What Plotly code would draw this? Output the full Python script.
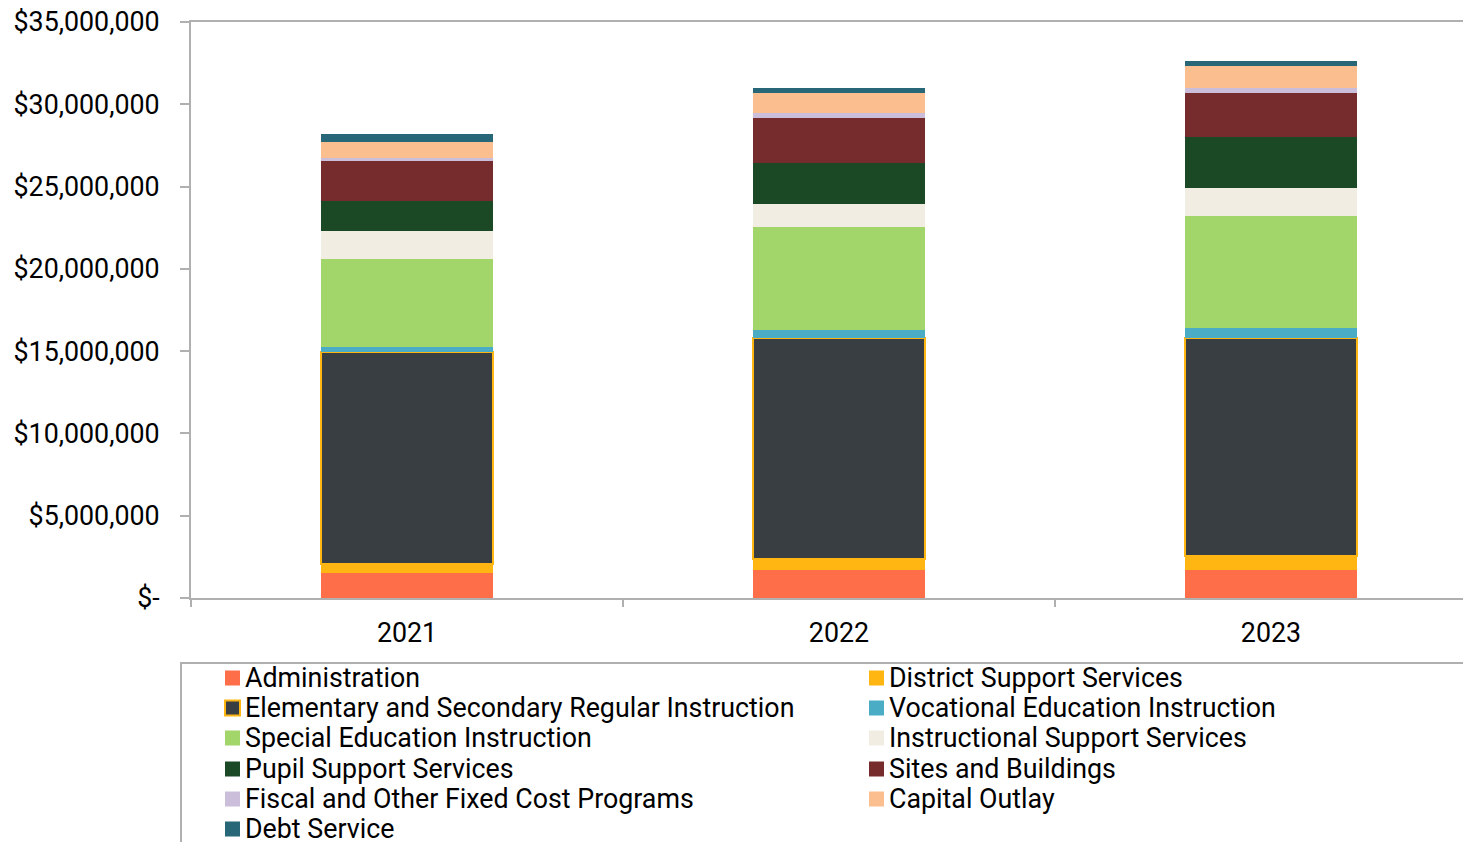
import plotly.graph_objects as go

years = ["2021", "2022", "2023"]
categories = [
    "Administration",
    "District Support Services",
    "Elementary and Secondary Regular Instruction",
    "Vocational Education Instruction",
    "Special Education Instruction",
    "Instructional Support Services",
    "Pupil Support Services",
    "Sites and Buildings",
    "Fiscal and Other Fixed Cost Programs",
    "Capital Outlay",
    "Debt Service",
]
administration = [1500000, 1700000, 1700000]
district_support = [550000, 650000, 870000]
elementary_secondary = [12920000, 13430000, 13250000]
vocational = [300000, 490000, 610000]
special_ed = [5350000, 6290000, 6780000]
instructional_support = [1660000, 1360000, 1690000]
pupil_support = [1820000, 2490000, 3090000]
sites_buildings = [2440000, 2740000, 2710000]
fiscal_fixed = [180000, 300000, 290000]
capital_outlay = [970000, 1250000, 1360000]
debt_service = [500000, 290000, 300000]

series = [administration, district_support, elementary_secondary, vocational,
          special_ed, instructional_support, pupil_support, sites_buildings,
          fiscal_fixed, capital_outlay, debt_service]
colors = ["#FE6E48", "#FFB612", "#393E42", "#4BACC6", "#A2D56A", "#F2EDE3",
          "#1B4925", "#762C2C", "#CABEDB", "#FBBF8F", "#276778"]

ytickvals = [0, 5000000, 10000000, 15000000, 20000000, 25000000, 30000000, 35000000]
yticktext = ["$-", "$5,000,000", "$10,000,000", "$15,000,000", "$20,000,000",
             "$25,000,000", "$30,000,000", "$35,000,000"]

# page body has an 8px default margin; figure coordinates are screen - 8
OFF = 8
W, H = 1471 - OFF, 842 - OFF
ML, MR, MT, MB = 191 - OFF, 0, 22 - OFF, 244
PW, PH = W - ML - MR, H - MT - MB
FONT = "Roboto"
FS = 26.8


def px(x):  # screen x -> paper
    return (x - OFF - ML) / PW


def py(y):  # screen y -> paper
    return (H - MB - (y - OFF)) / PH


fig = go.Figure()
for name, vals, col in zip(categories, series, colors):
    if name == "Elementary and Secondary Regular Instruction":
        line = dict(color="#FFB612", width=2)
    else:
        line = dict(width=0)
    fig.add_trace(go.Bar(x=years, y=vals, name=name, showlegend=False,
                         marker=dict(color=col, line=line)))

# Legend drawn as layout shapes + text annotations (two columns, row-major)
shapes = [dict(type="rect", xref="paper", yref="paper",
               x0=px(181), x1=px(1469), y0=py(663), y1=py(880),
               line=dict(color="#B0B0B0", width=2), fillcolor="rgba(0,0,0,0)",
               layer="above")]
annotations = []
row_y = [678, 708, 738, 769, 799, 829]
col_x = [225, 869]
for i, (name, col) in enumerate(zip(categories, colors)):
    r, c = divmod(i, 2)
    yc = row_y[r]
    x0 = col_x[c]
    sq_line = dict(color="#FFB612", width=2) if name.startswith("Elementary") else dict(width=0)
    shapes.append(dict(type="rect", xref="paper", yref="paper",
                       x0=px(x0), x1=px(x0 + 15), y0=py(yc + 7.5), y1=py(yc - 7.5),
                       fillcolor=col, line=sq_line))
    annotations.append(dict(xref="paper", yref="paper", x=px(x0 + 18), y=py(yc),
                            xanchor="left", yanchor="middle", text=name, showarrow=False,
                            font=dict(family=FONT, size=FS, color="black")))

fig.update_layout(
    barmode="stack",
    bargap=0.6,
    width=W, height=H,
    margin=dict(l=ML, r=MR, t=MT, b=MB, autoexpand=False),
    paper_bgcolor="white", plot_bgcolor="white",
    font=dict(family=FONT, size=FS, color="black"),
    showlegend=False,
    shapes=shapes,
    annotations=annotations,
)
fig.update_xaxes(
    type="category",
    range=[-0.5, 2.463],
    showline=True, linecolor="#B0B0B0", linewidth=2, mirror=True,
    ticks="outside", tickson="boundaries", ticklen=7, tickcolor="#B0B0B0", tickwidth=2,
    showgrid=False,
    ticklabelstandoff=10,
)
fig.update_yaxes(
    range=[0, 35000000],
    tickvals=ytickvals, ticktext=yticktext,
    showline=True, linecolor="#B0B0B0", linewidth=2,
    ticks="outside", ticklen=9, tickcolor="#B0B0B0", tickwidth=2,
    showgrid=False, zeroline=False,
    ticklabelstandoff=15,
    ticklabeloverflow="allow",
)

fig.write_html("out.html")
